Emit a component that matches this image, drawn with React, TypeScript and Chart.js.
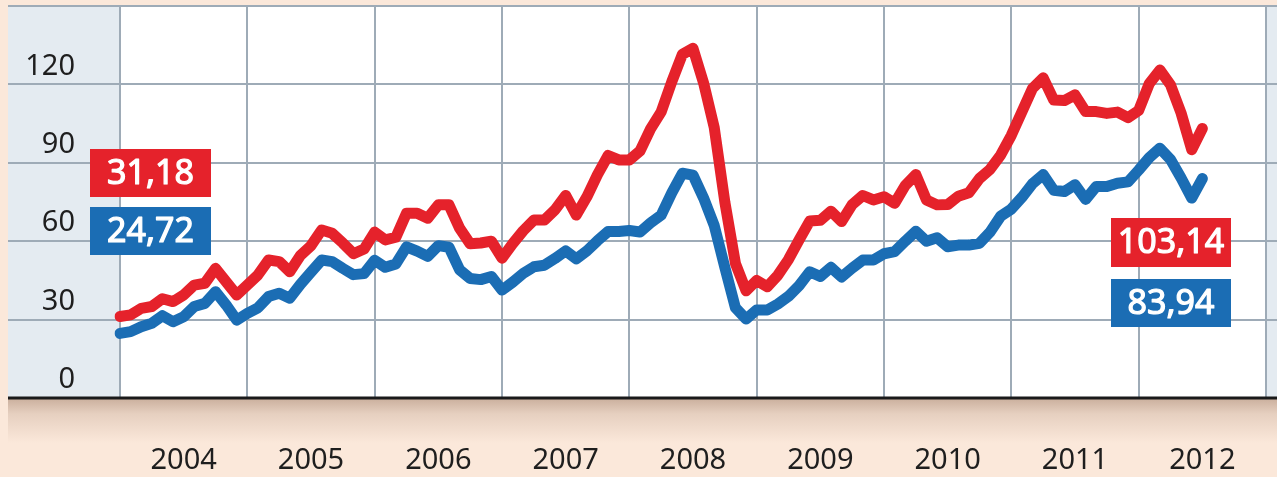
import { useEffect, useRef } from 'react';
import { Chart, registerables } from 'chart.js';

Chart.register(...registerables);

const years = ['2004', '2005', '2006', '2007', '2008', '2009', '2010', '2011', '2012'];
const endLabel = '2013-01';

const categories: string[] = [];
for (const y of years) {
  for (let m = 1; m <= 12; m++) categories.push(`${y}-${String(m).padStart(2, '0')}`);
}
categories.push(endLabel);

const redSeries = [
  31.18, 31.8, 34.3, 35, 38, 36.9, 39.4, 43.2, 43.9, 49.6,
  44.5, 39.4, 43.2, 47.1, 52.8, 52.2, 48.3, 54.5, 58.3, 64.3,
  63, 59.3, 55.2, 57, 63.5, 60.5, 61.5, 70.7, 70.7, 68.8,
  73.9, 73.9, 65, 59, 59.3, 60, 53.5, 59, 64, 68.1,
  68.1, 72, 77.5, 70, 77, 85.5, 92.8, 91.1, 91.1, 94.5,
  103, 109.5, 121, 131.5, 133.8, 120.5, 103.5, 75, 51.5, 41,
  45, 42.6, 47, 53, 60.5, 67.7, 68, 71.5, 67.5, 74,
  77.5, 75.8, 77, 74.5, 81.3, 85.5, 75.8, 73.9, 74, 77.2,
  78.5, 84, 87.5, 93, 100.5, 109.5, 118.5, 122.5, 114, 113.8,
  116, 109.6, 109.6, 108.9, 109.4, 107.3, 110, 120.3, 125.5, 119.8,
  109, 95, 103.14,
];

const blueSeries = [
  24.72, 25.4, 27.3, 28.6, 31.5, 29.2, 31.1, 35, 36.2, 40.7,
  35.6, 29.8, 32.4, 34.5, 38.8, 40.1, 38.2, 43.5, 48.2, 52.8,
  52.2, 49.6, 47.2, 47.6, 52.7, 50, 51.3, 57.8, 56.2, 54.2,
  58.3, 57.7, 49.1, 45.7, 45.3, 46.5, 41.3, 44.3, 47.7, 50.2,
  50.8, 53.4, 56.3, 53.2, 56.3, 60.2, 63.7, 63.7, 64.1, 63.5,
  67, 70, 78.5, 86, 85.3, 76.5, 66, 50, 34.5, 30.2,
  33.7, 33.7, 36, 38.9, 43, 48.3, 46.5, 50, 46.3, 49.7,
  52.8, 52.8, 55.2, 56, 60, 63.8, 60, 61.3, 57.9, 58.5,
  58.5, 59.2, 63.5, 69.6, 72.3, 76.8, 82, 85.5, 79.5, 79,
  81.6, 76, 80.9, 80.9, 82.2, 82.7, 87.2, 92, 95.6, 91.3,
  84.2, 76.5, 83.94,
];

const yMin = 0;
const yMax = 150;
const yStep = 30;

const RED = '#e5222b';
const BLUE = '#1b6db4';
const GRID = '#9eabb7';
const PEACH = '#fbe8da';
const PANEL = '#e4ebf1';
const FONT = '"Noto Sans", "Open Sans", sans-serif';

const fmt = (v: number) => v.toFixed(2).replace('.', ',');

const decorPlugin = {
  id: 'decor',
  beforeDraw(chart: any) {
    const { ctx, chartArea, width, height } = chart;
    const ys = chart.scales.y;
    ctx.save();
    ctx.fillStyle = PEACH;
    ctx.fillRect(0, 0, width, height);
    ctx.fillStyle = PANEL;
    ctx.fillRect(8, chartArea.top, width - 8, chartArea.bottom - chartArea.top);
    ctx.fillStyle = '#ffffff';
    ctx.fillRect(chartArea.left, chartArea.top, chartArea.right - chartArea.left, chartArea.bottom - chartArea.top);
    const g = ctx.createLinearGradient(0, chartArea.bottom, 0, chartArea.bottom + 45);
    g.addColorStop(0, 'rgba(120,80,55,0.38)');
    g.addColorStop(0.35, 'rgba(120,80,55,0.16)');
    g.addColorStop(1, 'rgba(120,80,55,0)');
    ctx.fillStyle = g;
    ctx.fillRect(8, chartArea.bottom, width - 8, 45);
    ctx.strokeStyle = GRID;
    ctx.lineWidth = 2;
    ys.ticks.forEach((t: any) => {
      const py = Math.round(ys.getPixelForValue(t.value));
      ctx.beginPath();
      ctx.moveTo(8, py);
      ctx.lineTo(width, py);
      ctx.stroke();
    });
    ctx.restore();
  },
  afterDatasetsDraw(chart: any) {
    const { ctx, chartArea, width } = chart;
    ctx.save();
    ctx.strokeStyle = '#1a1a1a';
    ctx.lineWidth = 3;
    ctx.beginPath();
    ctx.moveTo(8, chartArea.bottom);
    ctx.lineTo(width, chartArea.bottom);
    ctx.stroke();

    const box = (x: number, y: number, w: number, h: number, color: string, text: string) => {
      ctx.fillStyle = color;
      ctx.fillRect(x, y, w, h);
      ctx.fillStyle = '#ffffff';
      ctx.strokeStyle = '#ffffff';
      ctx.lineWidth = 1.2;
      ctx.lineJoin = 'round';
      ctx.font = `34px ${FONT}`;
      ctx.textAlign = 'center';
      ctx.textBaseline = 'middle';
      ctx.fillText(text, x + w / 2, y + h / 2 + 1);
      ctx.strokeText(text, x + w / 2, y + h / 2 + 1);
    };
    box(90, 149, 121, 48, RED, fmt(redSeries[0]));
    box(90, 207, 121, 48, BLUE, fmt(blueSeries[0]));
    box(1111, 218, 120, 49, RED, fmt(redSeries[redSeries.length - 1]));
    box(1111, 279, 120, 48, BLUE, fmt(blueSeries[blueSeries.length - 1]));
    ctx.restore();
  },
};

export default function App() {
  const ref = useRef<HTMLCanvasElement>(null);

  useEffect(() => {
    if (!ref.current) return;
    const chart = new Chart(ref.current, {
      type: 'line',
      data: {
        labels: categories,
        datasets: [
          {
            label: 'red',
            data: redSeries,
            borderColor: RED,
            borderWidth: 11,
            pointRadius: 0,
            tension: 0,
            borderJoinStyle: 'round',
            borderCapStyle: 'round',
            fill: false,
          },
          {
            label: 'blue',
            data: blueSeries,
            borderColor: BLUE,
            borderWidth: 11,
            pointRadius: 0,
            tension: 0,
            borderJoinStyle: 'round',
            borderCapStyle: 'round',
            fill: false,
          },
        ],
      },
      options: {
        animation: false,
        responsive: false,
        devicePixelRatio: 1,
        layout: { padding: { left: 8, top: 6, right: 11, bottom: 0 } },
        plugins: { legend: { display: false }, tooltip: { enabled: false } },
        scales: {
          x: {
            type: 'category',
            offset: false,
            border: { display: false },
            grid: {
              drawTicks: false,
              lineWidth: 2,
              color: (c: any) => (c.index % 12 === 0 ? GRID : 'rgba(0,0,0,0)'),
            },
            ticks: {
              autoSkip: false,
              maxRotation: 0,
              minRotation: 0,
              padding: 45,
              color: '#1e1e1e',
              font: { family: FONT, size: 29 },
              callback: (_v: any, i: number) => {
                const lab = categories[i];
                return lab && lab.endsWith('-07') ? lab.slice(0, 4) : '';
              },
            },
            afterFit: (s: any) => {
              s.height = 79;
              s.paddingLeft = 0;
              s.paddingRight = 0;
            },
          },
          y: {
            min: yMin,
            max: yMax,
            border: { display: false },
            grid: { drawTicks: false, lineWidth: 2, color: GRID },
            ticks: {
              stepSize: yStep,
              padding: 45,
              labelOffset: -18,
              color: '#1e1e1e',
              font: { family: FONT, size: 29 },
              callback: (v: any) => (Number(v) === yMax ? '' : String(v)),
            },
            afterFit: (s: any) => {
              s.width = 112;
              s.paddingTop = 0;
              s.paddingBottom = 0;
            },
          },
        },
      },
      plugins: [decorPlugin],
    });
    return () => chart.destroy();
  }, []);

  return (
    <div style={{ position: 'absolute', left: 0, top: 0, width: 1277, height: 477 }}>
      <canvas ref={ref} width={1277} height={477} style={{ width: 1277, height: 477, display: 'block' }} />
    </div>
  );
}
